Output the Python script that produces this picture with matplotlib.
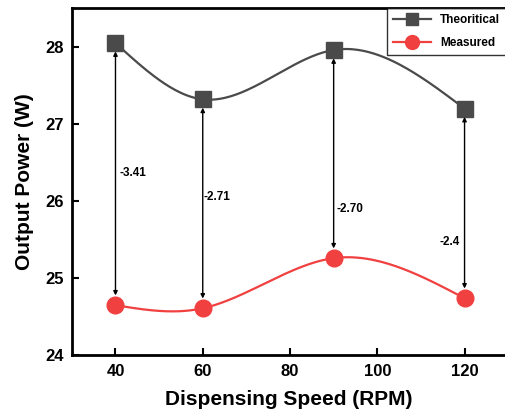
import numpy as np
import matplotlib.pyplot as plt

plt.rcParams['font.family'] = ['Liberation Sans', 'DejaVu Sans']
plt.rcParams['font.weight'] = 'bold'

speed = [40, 60, 90, 120]
theoretical = [28.05, 27.32, 27.96, 27.20]
measured = [24.65, 24.61, 25.26, 24.74]
diff_labels = ['-3.41', '-2.71', '-2.70', '-2.4']
label_y = [26.36, 26.05, 25.90, 25.47]


def natural_spline(x, y, n=200):
    # natural cubic spline, only used to draw the smooth connecting line
    x = np.asarray(x, float)
    y = np.asarray(y, float)
    k = len(x)
    h = np.diff(x)
    A = np.zeros((k, k))
    b = np.zeros(k)
    A[0, 0] = A[-1, -1] = 1
    for i in range(1, k - 1):
        A[i, i - 1] = h[i - 1]
        A[i, i] = 2 * (h[i - 1] + h[i])
        A[i, i + 1] = h[i]
        b[i] = 3 * ((y[i + 1] - y[i]) / h[i] - (y[i] - y[i - 1]) / h[i - 1])
    c = np.linalg.solve(A, b)
    xs = np.linspace(x[0], x[-1], n)
    ys = np.empty_like(xs)
    for j, xv in enumerate(xs):
        i = min(np.searchsorted(x, xv, side='right') - 1, k - 2)
        dx = xv - x[i]
        bi = (y[i + 1] - y[i]) / h[i] - h[i] * (2 * c[i] + c[i + 1]) / 3
        di = (c[i + 1] - c[i]) / (3 * h[i])
        ys[j] = y[i] + bi * dx + c[i] * dx**2 + di * dx**3
    return xs, ys


fig = plt.figure(figsize=(5.06, 4.18), dpi=100)
ax = fig.add_axes([0.142, 0.15, 0.858, 0.83])

gray = '#4a4a4a'
red = '#f04040'

xs, ys = natural_spline(speed, theoretical)
ax.plot(xs, ys, color=gray, lw=1.6)
xs, ys = natural_spline(speed, measured)
ax.plot(xs, ys, color=red, lw=1.6)
ax.plot(speed, theoretical, 's', color=gray, ms=11, ls='none')
ax.plot(speed, measured, 'o', color=red, ms=12, ls='none')

ax.plot([], [], color=gray, marker='s', ms=9, lw=1.6, label='Theoritical')
ax.plot([], [], color=red, marker='o', ms=10, lw=1.6, label='Measured')

for x, t, m in zip(speed, theoretical, measured):
    ax.annotate('', xy=(x, m), xytext=(x, t),
                arrowprops=dict(arrowstyle='<|-|>', color='black', lw=1,
                                mutation_scale=6, shrinkA=6, shrinkB=7))

ax.text(40.9, label_y[0], diff_labels[0], fontsize=8.5, va='center', ha='left')
ax.text(60.2, label_y[1], diff_labels[1], fontsize=8.5, va='center', ha='left')
ax.text(90.7, label_y[2], diff_labels[2], fontsize=8.5, va='center', ha='left')
ax.text(118.8, label_y[3], diff_labels[3], fontsize=8.5, va='center', ha='right')

ax.set_xlim(30, 129.5)
ax.set_ylim(24, 28.5)
ax.set_xticks([40, 60, 80, 100, 120])
ax.set_yticks([24, 25, 26, 27, 28])
ax.tick_params(direction='in', length=5, width=1.5, labelsize=12, pad=6)
for s in ax.spines.values():
    s.set_linewidth(2)

ax.set_xlabel('Dispensing Speed (RPM)', fontsize=15, fontweight='bold', labelpad=8)
ax.set_ylabel('Output Power (W)', fontsize=15, fontweight='bold', labelpad=8)

leg = ax.legend(loc='upper right', fontsize=8.5, frameon=True, fancybox=False,
                edgecolor='black', borderaxespad=0, handlelength=3.2,
                borderpad=0.5, labelspacing=0.9)
leg.get_frame().set_linewidth(1)

fig.savefig('out.png', dpi=100)
